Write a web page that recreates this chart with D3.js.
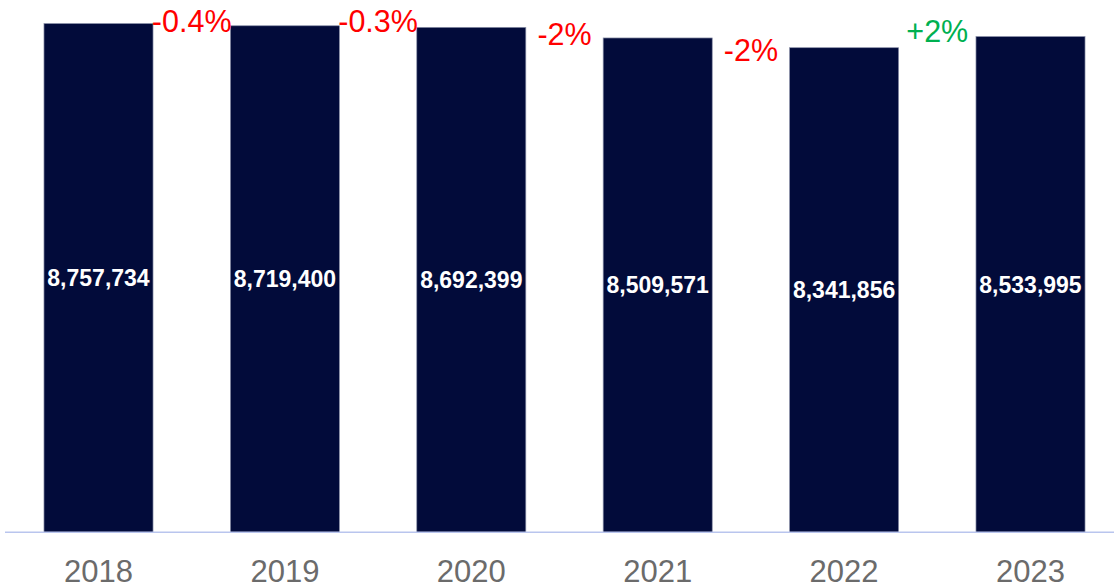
<!DOCTYPE html>
<html>
<head>
<meta charset="utf-8">
<script src="https://cdn.jsdelivr.net/npm/d3@7"></script>
<style>
  html, body { margin: 0; padding: 0; background: #fff; }
  #chart { width: 1114px; height: 587px; }
  text { font-family: Arial, "Liberation Sans", sans-serif; }
</style>
</head>
<body>
<div id="chart"></div>
<script>
//Datos
const YEARS = ['2018', '2019', '2020', '2021', '2022', '2023'];
const VALUES = [8757734, 8719400, 8692399, 8509571, 8341856, 8533995];
const CHANGES = ['-0.4%', '-0.3%', '-2%', '-2%', '+2%'];

//Colores
const COLOR_BAR = '#020B3A',
    COLOR_BAR_EDGE = '#8a90a8',
    COLOR_AXIS = '#B9C5EE',
    COLOR_YEAR = '#6B6B6B',
    COLOR_DOWN = '#FF0000',
    COLOR_UP = '#00B050';

//Ajuste vertical de las etiquetas de variación (px bajo el techo de la barra siguiente)
const CHANGE_DY = [6.7, 4.5, 7.3, 13.3, 5.7];

let width = 1114, height = 587, baseY = 532.3;

let svg = d3.select('#chart')
    .append('svg')
        .attr('width', width)
        .attr('height', height);

let x = d3.scaleBand()
    .domain(YEARS)
    .range([5.3, 1123.7])
    .paddingInner(0.415)
    .paddingOuter(0.2075);

let y = d3.scaleLinear()
    .domain([0, 9163000])
    .range([baseY, 0]);

//Barras
svg.append('g')
    .selectAll('rect')
    .data(VALUES)
    .enter()
    .append('rect')
    .attr('x', function(d, i) { return x(YEARS[i]); })
    .attr('y', function(d) { return y(d); })
    .attr('width', x.bandwidth())
    .attr('height', function(d) { return baseY - y(d); })
    .attr('fill', COLOR_BAR)
    .attr('stroke', COLOR_BAR_EDGE)
    .attr('stroke-width', 0.7);

//Eje
let xAxis = svg.append('g')
    .attr('transform', 'translate(0,' + baseY + ')')
    .call(d3.axisBottom(x).tickSize(0).tickPadding(0));

xAxis.select('.domain')
    .attr('d', 'M5,0H' + width)
    .attr('stroke', COLOR_AXIS)
    .attr('stroke-width', 1.5);

xAxis.selectAll('text')
    .attr('dy', null)
    .attr('y', 49.4)
    .attr('fill', COLOR_YEAR)
    .style('font-size', '31px')
    .style('font-family', 'Arial, "Liberation Sans", sans-serif');

//Valores dentro de las barras
svg.append('g')
    .selectAll('text')
    .data(VALUES)
    .enter()
    .append('text')
    .attr('x', function(d, i) { return x(YEARS[i]) + x.bandwidth() / 2; })
    .attr('y', function(d) { return (y(d) + baseY) / 2 + 8.3; })
    .attr('text-anchor', 'middle')
    .attr('fill', '#fff')
    .style('font-size', '23px')
    .style('font-weight', 'bold')
    .text(function(d) { return d3.format(',')(d); });

//Variaciones entre barras
svg.append('g')
    .selectAll('text')
    .data(CHANGES)
    .enter()
    .append('text')
    .attr('x', function(d, i) { return (x(YEARS[i]) + x.bandwidth() + x(YEARS[i + 1])) / 2; })
    .attr('y', function(d, i) { return y(VALUES[i + 1]) + CHANGE_DY[i]; })
    .attr('text-anchor', 'middle')
    .attr('fill', function(d) { return d.charAt(0) == '+' ? COLOR_UP : COLOR_DOWN; })
    .style('font-size', '30.5px')
    .text(function(d) { return d; });
</script>
</body>
</html>
